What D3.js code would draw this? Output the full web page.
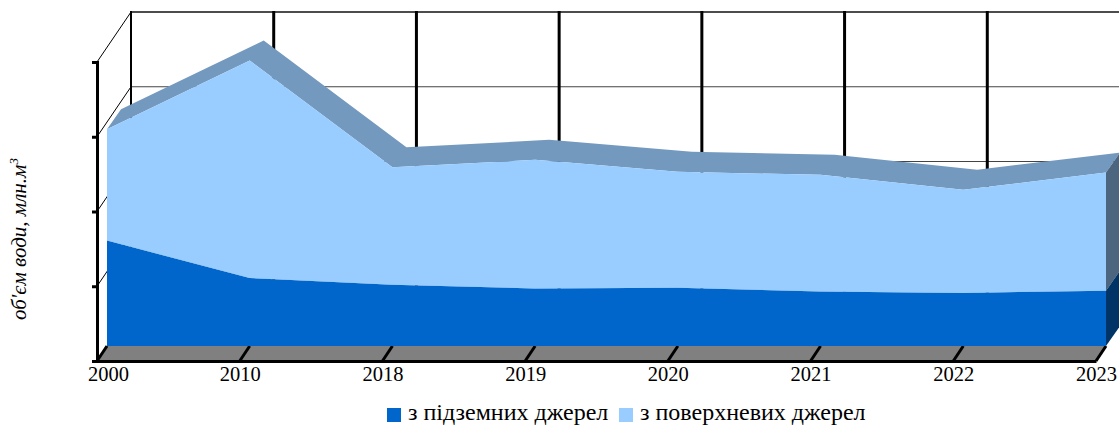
<!DOCTYPE html>
<html>
<head>
<meta charset="utf-8">
<script src="https://cdnjs.cloudflare.com/ajax/libs/d3/7.8.5/d3.min.js"></script>
<style>
    html, body { margin: 0; padding: 0; background: #fff; overflow: hidden; }
    text { font-family: "Liberation Serif", serif; fill: #000; }
</style>
</head>
<body>
<div id="chart"></div>
<script>
// values, in hundreds of mln m3 (the y axis has no labels)
const years = ["2000", "2010", "2018", "2019", "2020", "2021", "2022", "2023"];
const groundWater = [1.41, 0.91, 0.82, 0.77, 0.78, 0.73, 0.71, 0.74];
const surfaceWater = [1.49, 2.91, 1.57, 1.72, 1.55, 1.56, 1.38, 1.58];
const seriesNames = ["з підземних джерел", "з поверхневих джерел"];
const seriesColors = ["#0066cc", "#99ccff"];
const topColor = "#7399bf";
const sideColors = ["#003366", "#4d6680"];
const yTicks = [0, 1, 2, 3, 4];

const width = 1119, height = 425;

// Depth of the 3D box: axis plane -> series front -> series back -> back wall
const front = { dx: 10, dy: -15 };
const back = { dx: 24, dy: -35 };
const wall = { dx: 34, dy: -50 };

const x = d3.scalePoint().domain(years).range([97, 1096]);
const y = d3.scaleLinear().domain([0, 4]).range([361, 62]);

const stacked = d3.stack().keys([0, 1]).value((d, k) => d[k])(years.map((yr, i) => [groundWater[i], surfaceWater[i]]));

const svg = d3.select("#chart").append("svg")
    .attr("width", width)
    .attr("height", height);

// Back wall grid
const grid = svg.append("g");
grid.selectAll(".gridH")
    .data(yTicks.slice(1))
    .enter()
    .append("line")
    .attr("x1", x.range()[0] + wall.dx)
    .attr("x2", width)
    .attr("y1", d => y(d) + wall.dy)
    .attr("y2", d => y(d) + wall.dy)
    .attr("stroke", d => d === 4 ? "#111" : "#444")
    .attr("stroke-width", d => d === 4 ? 1.5 : 1.2);

grid.selectAll(".gridV")
    .data(years)
    .enter()
    .append("line")
    .attr("x1", d => x(d) + wall.dx)
    .attr("x2", d => x(d) + wall.dx)
    .attr("y1", y(4) + wall.dy - 1)
    .attr("y2", y(0) + wall.dy)
    .attr("stroke", "#000")
    .attr("stroke-width", (d, i) => i === 0 ? 2 : 3);

// Side wall lines going from the y ticks to the back
grid.selectAll(".gridD")
    .data(yTicks.slice(1))
    .enter()
    .append("line")
    .attr("x1", x.range()[0])
    .attr("y1", d => y(d))
    .attr("x2", x.range()[0] + wall.dx)
    .attr("y2", d => y(d) + wall.dy)
    .attr("stroke", "#000")
    .attr("stroke-width", 1);

// Floor
const floorPts = [
    [x.range()[0], y(0)],
    [x.range()[1], y(0)],
    [x.range()[1] + front.dx, y(0) + front.dy],
    [x.range()[0] + front.dx, y(0) + front.dy]
];
svg.append("polygon")
    .attr("points", floorPts.join(" "))
    .attr("fill", "#808080");

// Floor ticks
svg.append("g").selectAll("line")
    .data(years)
    .enter()
    .append("line")
    .attr("x1", d => x(d))
    .attr("y1", y(0))
    .attr("x2", d => x(d) + front.dx)
    .attr("y2", y(0) + front.dy)
    .attr("stroke", "#000")
    .attr("stroke-width", 3);

// Each layer: top face, then right side, then the front
stacked.forEach((layer, k) => {
    const pts = layer.map((d, i) => ({ year: years[i], y0: d[0], y1: d[1] }));
    const last = pts[pts.length - 1];

    const topFace = pts.map(p => [x(p.year) + front.dx, y(p.y1) + front.dy])
        .concat(pts.slice().reverse().map(p => [x(p.year) + back.dx, y(p.y1) + back.dy]));
    svg.append("polygon")
        .attr("points", topFace.join(" "))
        .attr("fill", topColor);

    const side = [
        [x(last.year) + front.dx, y(last.y0) + front.dy],
        [x(last.year) + front.dx, y(last.y1) + front.dy],
        [x(last.year) + back.dx, y(last.y1) + back.dy],
        [x(last.year) + back.dx, y(last.y0) + back.dy]
    ];
    svg.append("polygon")
        .attr("points", side.join(" "))
        .attr("fill", sideColors[k]);
});

const area = d3.area()
    .x((d, i) => x(years[i]) + front.dx)
    .y0(d => y(d[0]) + front.dy)
    .y1(d => y(d[1]) + front.dy);

svg.selectAll(".layer")
    .data(stacked)
    .enter()
    .append("path")
    .attr("d", area)
    .attr("fill", (d, k) => seriesColors[k]);

// Axes
const xAxis = svg.append("g")
    .attr("transform", "translate(0," + y(0) + ")")
    .call(d3.axisBottom(x).tickSize(0).tickPadding(5));
xAxis.select(".domain").attr("stroke", "#000").attr("stroke-width", 3);
xAxis.selectAll("text")
    .attr("font-size", 20.5)
    .style("font-family", '"Liberation Serif", serif')
    .attr("dx", (d, i) => i === 0 ? 11 : 0);

const yAxis = svg.append("g")
    .attr("transform", "translate(" + x.range()[0] + ",0)")
    .call(d3.axisLeft(y).tickValues(yTicks).tickSize(5).tickFormat(""));
yAxis.select(".domain").attr("stroke", "#000").attr("stroke-width", 3);
yAxis.selectAll("line").attr("stroke", "#000").attr("stroke-width", 3);

// Y title with the superscript
const title = svg.append("text")
    .attr("transform", "translate(26,320) rotate(-90)")
    .attr("font-size", 21)
    .attr("font-style", "italic");
title.append("tspan").text("об'єм води, млн.м");
title.append("tspan").text("3").attr("font-size", 13).attr("dy", -8);

// Legend
const legend = svg.append("g");
const legendX = [387, 619];
seriesNames.forEach((name, k) => {
    legend.append("rect")
        .attr("x", legendX[k])
        .attr("y", 408)
        .attr("width", 14)
        .attr("height", 14)
        .attr("fill", seriesColors[k]);
    legend.append("text")
        .attr("x", legendX[k] + 21)
        .attr("y", 419.5)
        .attr("font-size", 24)
        .text(name);
});
</script>
</body>
</html>
